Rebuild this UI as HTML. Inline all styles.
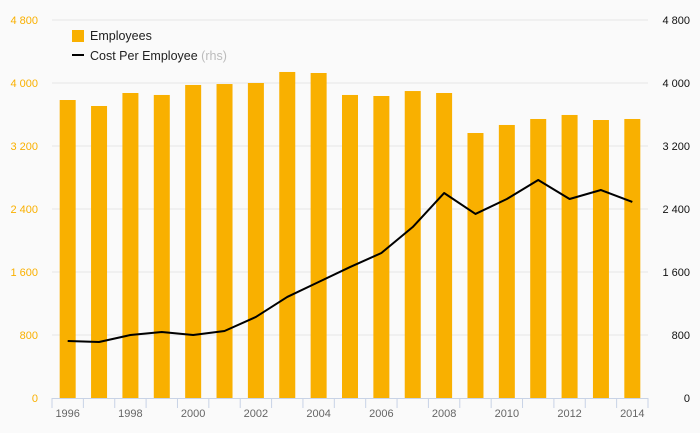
<!DOCTYPE html>
<html><head><meta charset="utf-8"><style>
body{margin:0;background:#fafafa;font-family:"Liberation Sans",sans-serif;}
svg{display:block}
</style></head><body>
<svg id="chart" width="700" height="433" viewBox="0 0 700 433">
<rect width="700" height="433" fill="#fafafa"/>
<g id="grid"></g><g id="bars"></g><g id="line"></g><g id="axes"></g>
<g>
<rect x="72" y="30" width="12" height="12" fill="#f9b000"/>
<text x="90" y="40" font-size="12.5" fill="#222">Employees</text>
<line x1="72" y1="55" x2="84" y2="55" stroke="#000" stroke-width="2"/>
<text x="90" y="60" font-size="12.5" fill="#222">Cost Per Employee <tspan fill="#bbb">(rhs)</tspan></text>
</g>
</svg>
<script>
const years=[1996,1997,1998,1999,2000,2001,2002,2003,2004,2005,2006,2007,2008,2009,2010,2011,2012,2013,2014];
const employees=[3784,3708,3873,3848,3975,3987,4000,4140,4127,3848,3835,3898,3873,3365,3467,3543,3594,3530,3543];
const costPerEmployee=[724,711,800,838,800,851,1029,1283,1473,1663,1841,2171,2603,2337,2527,2768,2527,2641,2489];
const leftTicks=[0,800,1600,2400,3200,4000,4800];
const leftTickLabels=["0","800","1 600","2 400","3 200","4 000","4 800"];
const rightTicks=[0,800,1600,2400,3200,4000,4800];
const rightTickLabels=["0","800","1 600","2 400","3 200","4 000","4 800"];

const NS="http://www.w3.org/2000/svg";
const x0=52,x1=648,y0=398,yTop=20,maxV=4800;
const band=(x1-x0)/years.length;
const xc=i=>x0+band*(i+0.5);
const yL=v=>y0-(v/maxV)*(y0-yTop);
const yR=v=>y0-(v/4800)*(y0-yTop);
function mk(tag,attrs,parent){const e=document.createElementNS(NS,tag);for(const k in attrs)e.setAttribute(k,attrs[k]);parent.appendChild(e);return e;}
const grid=document.getElementById('grid'),bars=document.getElementById('bars'),line=document.getElementById('line'),axes=document.getElementById('axes');
leftTicks.forEach((t,i)=>{
  if(t>0){const g=mk('line',{x1:x0,x2:x1,y1:yL(t),y2:yL(t),stroke:'#e6e6e6','stroke-width':1},grid);
  
  }
  const tx=mk('text',{x:38,y:yL(t)+4,'font-size':11,fill:'#f9b000','text-anchor':'end'},axes);
  tx.textContent=leftTickLabels[i];
  
  
});
rightTicks.forEach((t,i)=>{
  const tx=mk('text',{x:690,y:yR(t)+4,'font-size':11,fill:'#111','text-anchor':'end'},axes);
  tx.textContent=rightTickLabels[i];
  
  
});
employees.forEach((v,i)=>{
  const r=mk('rect',{x:xc(i)-8,y:yL(v),width:16,height:y0-yL(v),fill:'#f9b000'},bars);
  
  
});
const p=mk('polyline',{points:costPerEmployee.map((v,i)=>xc(i)+','+yR(v)).join(' '),fill:'none',stroke:'#000','stroke-width':2,'stroke-linejoin':'round'},line);


const ax=mk('line',{x1:x0,x2:x1,y1:y0+0.5,y2:y0+0.5,stroke:'#c8d3e6','stroke-width':1},axes);


for(let i=0;i<=years.length;i++){
  const t=mk('line',{x1:x0+band*i,x2:x0+band*i,y1:y0,y2:y0+10,stroke:'#c8d3e6'},axes);
  
  
}
years.forEach((yr,i)=>{
  if(i%2)return;
  const tx=mk('text',{x:xc(i),y:417,'font-size':11,fill:'#666','text-anchor':'middle'},axes);
  tx.textContent=yr;
  
  
});
</script>
</body></html>
